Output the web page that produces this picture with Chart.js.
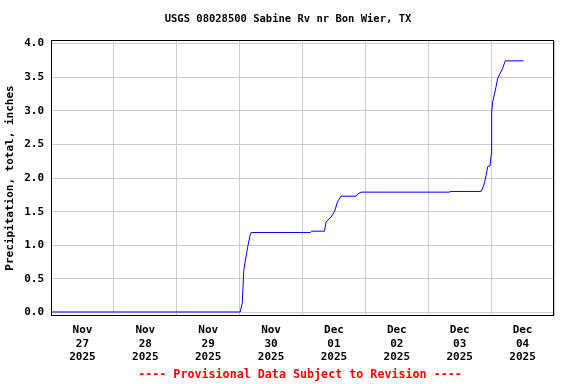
<!DOCTYPE html>
<html lang="en">
<head>
    <meta charset="UTF-8">
    <title>USGS 08028500 Sabine Rv nr Bon Wier, TX</title>
    <script src="https://cdn.jsdelivr.net/npm/chart.js"></script>
    <style>
        html, body { margin: 0; padding: 0; background: #fff; }
        #chartContainer { width: 576px; height: 384px; }
    </style>
</head>
<body>
    <div id="chartContainer">
        <canvas id="chartCanvas"></canvas>
    </div>

    <script>
        const chartTitle = "USGS 08028500 Sabine Rv nr Bon Wier, TX";
        const yAxisTitle = "Precipitation, total, inches";
        const footerText = "---- Provisional Data Subject to Revision ----";

        // hours since Nov 27 2025 00:00
        const hours = [0, 72.2, 73.0, 73.6, 74.2, 75.1, 76.0, 76.4, 98.9, 99.5, 104.4, 105.0, 106.9, 108.2, 109.4,
            110.7, 116.5, 117.0, 118.4, 152.1, 152.3, 164.2, 164.8, 165.4, 166.1, 166.7, 167.6, 168.0, 168.2,
            168.6, 169.2, 169.9, 170.5, 171.4, 172.4, 173.4, 180.3];
        // cumulative precipitation, inches
        const precip = [0.01, 0.01, 0.14, 0.63, 0.78, 0.98, 1.15, 1.19, 1.19, 1.21, 1.21, 1.35, 1.42, 1.50, 1.65,
            1.73, 1.73, 1.76, 1.79, 1.79, 1.80, 1.80, 1.85, 1.92, 2.04, 2.17, 2.18, 2.34, 2.98,
            3.13, 3.23, 3.36, 3.48, 3.55, 3.63, 3.74, 3.74];

        const dayLabels = [
            ["Nov", "27", "2025"], ["Nov", "28", "2025"], ["Nov", "29", "2025"], ["Nov", "30", "2025"],
            ["Dec", "01", "2025"], ["Dec", "02", "2025"], ["Dec", "03", "2025"], ["Dec", "04", "2025"]
        ];
        const yTicks = [0, 0.5, 1.0, 1.5, 2.0, 2.5, 3.0, 3.5, 4.0];

        const FONT = "'DejaVu Sans Mono', 'Liberation Mono', monospace";
        Chart.defaults.font.family = FONT;
        Chart.defaults.font.weight = "bold";
        Chart.defaults.font.size = 11;
        Chart.defaults.color = "#000";

        // frame, title and footer
        const framePlugin = {
            id: "frame",
            afterDraw(chart) {
                const { ctx, chartArea: a } = chart;
                ctx.save();
                ctx.strokeStyle = "#000";
                ctx.lineWidth = 1;
                ctx.strokeRect(a.left + 0.5, a.top + 0.5, a.right - a.left - 1, a.bottom - a.top - 1);
                ctx.textAlign = "center";
                ctx.textBaseline = "middle";
                ctx.fillStyle = "#000";
                ctx.font = "bold 10.5px " + FONT;
                ctx.fillText(chartTitle, 288, 19);
                ctx.fillStyle = "#ff0000";
                ctx.font = "bold 11.7px " + FONT;
                ctx.fillText(footerText, 300, 375);
                ctx.restore();
            }
        };

        const xTickValues = [];
        for (let h = 0; h <= 192; h += 12) xTickValues.push(h);

        new Chart(document.getElementById("chartCanvas"), {
            type: "line",
            data: {
                datasets: [{
                    data: hours.map((h, i) => ({ x: h, y: precip[i] })),
                    borderColor: "#0000ff",
                    borderWidth: 1,
                    pointRadius: 0,
                    fill: false,
                    tension: 0
                }]
            },
            options: {
                responsive: true,
                maintainAspectRatio: false,
                animation: false,
                layout: { padding: { top: 40, right: 22, left: 0, bottom: 0 } },
                plugins: { legend: { display: false }, tooltip: { enabled: false } },
                scales: {
                    x: {
                        type: "linear",
                        min: 0,
                        max: 192,
                        afterBuildTicks: s => { s.ticks = xTickValues.map(v => ({ value: v })); },
                        afterFit: s => { s.height = 68; },
                        grid: {
                            drawTicks: false,
                            color: c => (c.tick && c.tick.value % 24 === 0) ? "#cccccc" : "rgba(0,0,0,0)",
                            lineWidth: 1
                        },
                        border: { display: false },
                        ticks: {
                            autoSkip: false,
                            maxRotation: 0,
                            padding: 8,
                            font: { size: 11, weight: "bold", lineHeight: 1.2 },
                            callback: v => (v % 24 === 12) ? dayLabels[(v - 12) / 24] : ""
                        }
                    },
                    y: {
                        min: -0.05,
                        max: 4.05,
                        afterBuildTicks: s => { s.ticks = yTicks.map(v => ({ value: v })); },
                        afterFit: s => { s.width = 51; },
                        grid: { drawTicks: false, color: "#cccccc", lineWidth: 1 },
                        border: { display: false },
                        ticks: {
                            padding: 7,
                            callback: v => v.toFixed(1)
                        },
                        title: {
                            display: true,
                            text: yAxisTitle,
                            padding: { top: 4, bottom: 0 },
                            font: { size: 11, weight: "bold" }
                        }
                    }
                }
            },
            plugins: [framePlugin]
        });
    </script>
</body>
</html>
